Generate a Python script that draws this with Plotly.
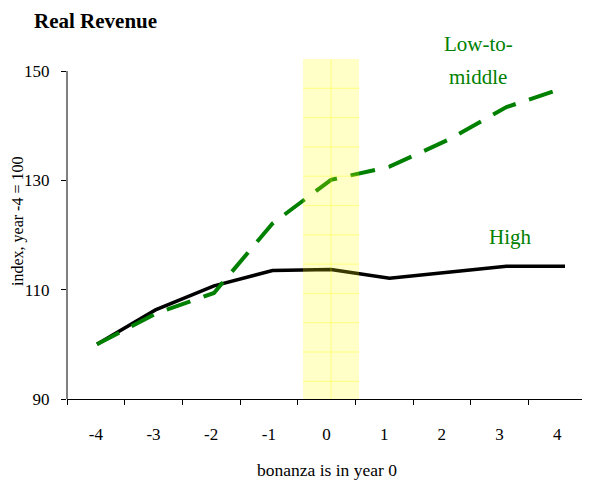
import plotly.graph_objects as go

# ---- data ----
years = [-4, -3, -2, -1, 0, 1, 2, 3, 4]
year_labels = ["-4", "-3", "-2", "-1", "0", "1", "2", "3", "4"]
high = [100.0, 106.3, 110.7, 113.5, 113.7, 112.1, 113.2, 114.3, 114.3]
low_to_middle = [100.0, 105.6, 109.4, 122.1, 130.1, 132.5, 137.4, 143.4, 147.0]
y_ticks = [90, 110, 130, 150]
bonanza_year = 0

# ---- geometry (page has an 8px body margin, so the figure is offset) ----
OFF = 8
W, H = 590 - OFF, 485 - OFF
# plot area in window pixels: x 67..586, y 59..399
L = 67 - OFF
T = 59 - OFF
R = W - (586 - OFF)
B = H - (399 - OFF)
PW, PH = W - L - R, H - T - B
Y0, Y1 = 90, 152.2


def px(p):
    """window pixel x -> paper x"""
    return (p - OFF - L) / PW


def py(p):
    """window pixel y -> paper y"""
    return (H - B - (p - OFF)) / PH


FONT = "Liberation Serif"
GREEN = "#008000"

fig = go.Figure()
# invisible trace so that the visible category axis is drawn
fig.add_trace(go.Scatter(x=years, y=high, xaxis="x", yaxis="y", mode="lines",
                         line=dict(color="rgba(0,0,0,0)", width=0),
                         showlegend=False, hoverinfo="skip"))
fig.add_trace(go.Scatter(x=years, y=high, xaxis="x2", yaxis="y", mode="lines",
                         line=dict(color="black", width=3.5), name="High",
                         showlegend=False, hoverinfo="skip"))
fig.add_trace(go.Scatter(x=years, y=low_to_middle, xaxis="x2", yaxis="y", mode="lines",
                         line=dict(color=GREEN, width=4, dash="25px,14px"),
                         name="Low-to-middle", showlegend=False, hoverinfo="skip"))

shapes = []
bx0, bx1 = bonanza_year - 0.48, bonanza_year + 0.48
shapes.append(dict(type="rect", xref="x2", yref="y", x0=bx0, x1=bx1, y0=Y0, y1=Y1,
                   fillcolor="rgba(255,255,0,0.22)", line=dict(width=0), layer="above"))
step = 29.3 * (Y1 - Y0) / PH
k = 1
while Y1 - k * step > Y0 + 0.5:
    yv = Y1 - k * step
    shapes.append(dict(type="line", xref="x2", yref="y", x0=bx0, x1=bx1, y0=yv, y1=yv,
                       line=dict(color="rgba(255,255,0,0.35)", width=1), layer="above"))
    k += 1
shapes.append(dict(type="line", xref="x2", yref="y", x0=(bx0 + bx1) / 2, x1=(bx0 + bx1) / 2,
                   y0=Y0, y1=Y1, line=dict(color="rgba(255,255,0,0.35)", width=1), layer="above"))
shapes.append(dict(type="line", xref="paper", yref="y", x0=0, x1=0, y0=y_ticks[0], y1=y_ticks[-1],
                   line=dict(color="black", width=1)))

annotations = [
    dict(text="<b>Real Revenue</b>", xref="paper", yref="paper", x=px(32), y=py(21),
         xanchor="left", yanchor="middle", showarrow=False,
         font=dict(family=FONT, size=21, color="black")),
    dict(text="index, year -4 = 100", xref="paper", yref="paper", x=px(18), y=py(222),
         xanchor="center", yanchor="middle", showarrow=False, textangle=-90,
         font=dict(family=FONT, size=16, color="black")),
    dict(text="bonanza is in year 0", xref="paper", yref="paper", x=px(326.5), y=py(470),
         xanchor="center", yanchor="middle", showarrow=False,
         font=dict(family=FONT, size=17.5, color="black")),
    dict(text="Low-to-", xref="paper", yref="paper", x=px(478), y=py(44),
         xanchor="center", yanchor="middle", showarrow=False,
         font=dict(family=FONT, size=21, color=GREEN)),
    dict(text="middle", xref="paper", yref="paper", x=px(478), y=py(77),
         xanchor="center", yanchor="middle", showarrow=False,
         font=dict(family=FONT, size=21, color=GREEN)),
    dict(text="High", xref="paper", yref="paper", x=px(510), y=py(237),
         xanchor="center", yanchor="middle", showarrow=False,
         font=dict(family=FONT, size=21, color=GREEN)),
]

# line x-axis: year -4 at window px 97, year 4 at px 565
slope = (565 - 97) / (years[-1] - years[0])
r0 = years[0] - (97 - 67) / slope
r1 = r0 + PW / slope

fig.update_layout(
    width=W, height=H,
    margin=dict(l=L, r=R, t=T, b=B, pad=0),
    paper_bgcolor="white", plot_bgcolor="white",
    font=dict(family=FONT, size=17, color="black"),
    xaxis=dict(type="linear", range=[years[0] - 0.5, years[-1] + 0.5],
               tickvals=years, ticktext=year_labels, ticks="",
               showline=True, linecolor="black", linewidth=1,
               showgrid=False, zeroline=False, ticklabelstandoff=20,
               tickfont=dict(family=FONT, size=17, color="black"),
               minor=dict(tickvals=[y - 0.5 for y in years], ticks="outside",
                          ticklen=5, tickcolor="black", tickwidth=1, showgrid=False)),
    xaxis2=dict(type="linear", overlaying="x", anchor="y", range=[r0, r1],
                visible=False, showgrid=False, zeroline=False),
    yaxis=dict(range=[Y0, Y1], tickvals=y_ticks, ticks="outside", ticklen=5,
               tickcolor="black", showline=False, showgrid=False, zeroline=False,
               ticklabelstandoff=8,
               tickfont=dict(family=FONT, size=17, color="black")),
    shapes=shapes,
    annotations=annotations,
    showlegend=False,
)

fig.write_html("out.html")
